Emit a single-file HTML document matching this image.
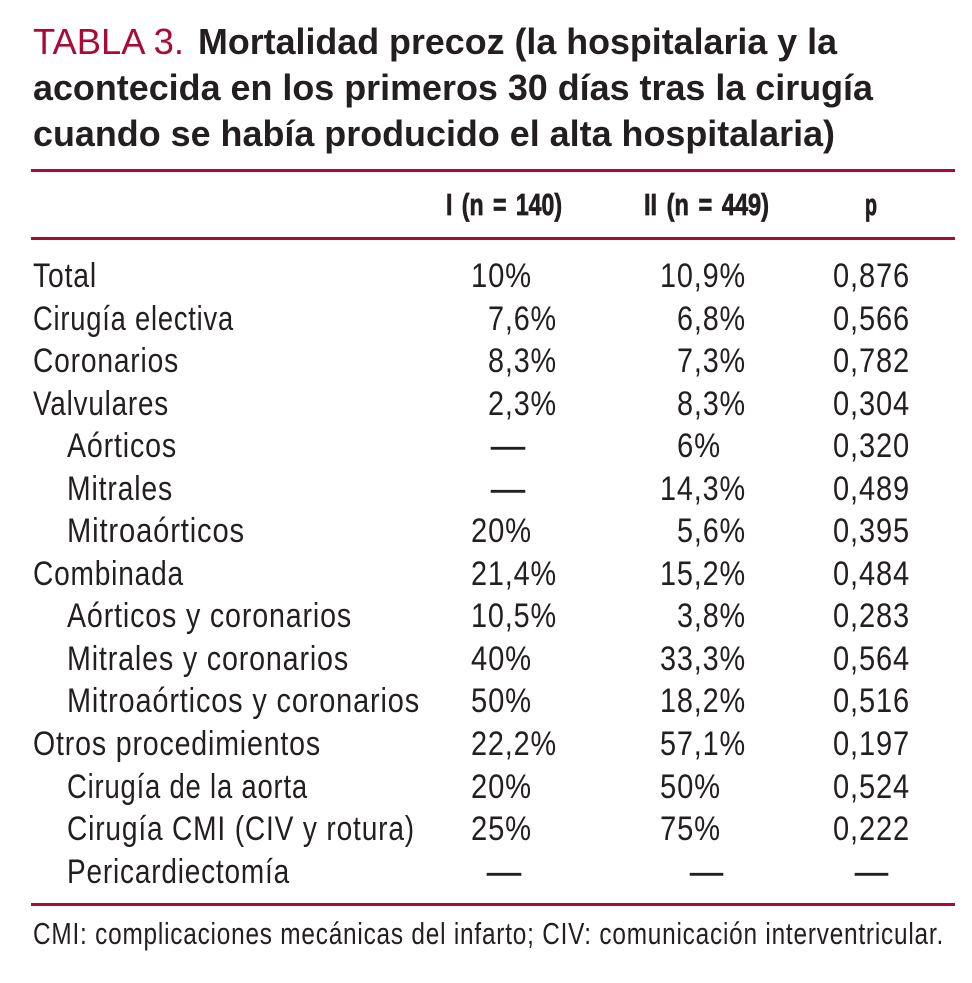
<!DOCTYPE html>
<html lang="es">
<head>
<meta charset="utf-8">
<title>TABLA 3. Mortalidad precoz</title>
<style>
html,body{margin:0;padding:0;background:#fff;width:972px;height:983px;overflow:hidden}
svg{display:block}
text{font-family:"Liberation Sans",sans-serif;fill:#231f20}
.t{font-size:36px;font-weight:bold}
.h{font-size:31px;font-weight:bold;word-spacing:4px;stroke:#231f20;stroke-width:.8px}
.b{font-size:34px;letter-spacing:1px}
.f{font-size:31px;letter-spacing:1px}
.r{fill:#a90a36;font-weight:normal}
.d{stroke:#231f20;stroke-width:.6px}
line{stroke:#a90a36;stroke-width:3}
</style>
</head>
<body>
<svg width="972" height="983" viewBox="0 0 972 983" xmlns="http://www.w3.org/2000/svg">
<g>
<text class="t r" x="33" y="54" textLength="151" lengthAdjust="spacingAndGlyphs">TABLA 3.</text>
<text class="t" x="198" y="54" textLength="639" lengthAdjust="spacingAndGlyphs">Mortalidad precoz (la hospitalaria y la</text>
<text class="t" x="33" y="100" textLength="840" lengthAdjust="spacingAndGlyphs">acontecida en los primeros 30 días tras la cirugía</text>
<text class="t" x="33" y="146" textLength="802" lengthAdjust="spacingAndGlyphs">cuando se había producido el alta hospitalaria)</text>
</g>
<line x1="31" x2="955" y1="170.5" y2="170.5"/>
<line x1="31" x2="955" y1="238.5" y2="238.5"/>
<line x1="31" x2="955" y1="904.5" y2="904.5"/>
<g>
<text class="h" x="446" y="215" textLength="116" lengthAdjust="spacingAndGlyphs">I (n = 140)</text>
<text class="h" x="644" y="215" textLength="125" lengthAdjust="spacingAndGlyphs">II (n = 449)</text>
<text class="h" x="865" y="215" textLength="12" lengthAdjust="spacingAndGlyphs">p</text>
</g>
<g class="b">
<text x="33" y="287" textLength="64" lengthAdjust="spacingAndGlyphs">Total</text>
<text x="471" y="287" textLength="61" lengthAdjust="spacingAndGlyphs">10%</text>
<text x="660" y="287" textLength="86" lengthAdjust="spacingAndGlyphs">10,9%</text>
<text x="833" y="287" textLength="77" lengthAdjust="spacingAndGlyphs">0,876</text>
</g>
<g class="b">
<text x="33" y="330" textLength="201" lengthAdjust="spacingAndGlyphs">Cirugía electiva</text>
<text x="488" y="330" textLength="69" lengthAdjust="spacingAndGlyphs">7,6%</text>
<text x="677" y="330" textLength="69" lengthAdjust="spacingAndGlyphs">6,8%</text>
<text x="833" y="330" textLength="77" lengthAdjust="spacingAndGlyphs">0,566</text>
</g>
<g class="b">
<text x="33" y="372" textLength="146" lengthAdjust="spacingAndGlyphs">Coronarios</text>
<text x="488" y="372" textLength="69" lengthAdjust="spacingAndGlyphs">8,3%</text>
<text x="677" y="372" textLength="69" lengthAdjust="spacingAndGlyphs">7,3%</text>
<text x="833" y="372" textLength="77" lengthAdjust="spacingAndGlyphs">0,782</text>
</g>
<g class="b">
<text x="33" y="415" textLength="136" lengthAdjust="spacingAndGlyphs">Valvulares</text>
<text x="488" y="415" textLength="69" lengthAdjust="spacingAndGlyphs">2,3%</text>
<text x="677" y="415" textLength="69" lengthAdjust="spacingAndGlyphs">8,3%</text>
<text x="833" y="415" textLength="77" lengthAdjust="spacingAndGlyphs">0,304</text>
</g>
<g class="b">
<text x="67" y="457" textLength="110" lengthAdjust="spacingAndGlyphs">Aórticos</text>
<text class="d" x="491" y="457" textLength="35" lengthAdjust="spacingAndGlyphs">—</text>
<text x="677" y="457" textLength="44" lengthAdjust="spacingAndGlyphs">6%</text>
<text x="833" y="457" textLength="77" lengthAdjust="spacingAndGlyphs">0,320</text>
</g>
<g class="b">
<text x="67" y="500" textLength="106" lengthAdjust="spacingAndGlyphs">Mitrales</text>
<text class="d" x="491" y="500" textLength="35" lengthAdjust="spacingAndGlyphs">—</text>
<text x="660" y="500" textLength="86" lengthAdjust="spacingAndGlyphs">14,3%</text>
<text x="833" y="500" textLength="77" lengthAdjust="spacingAndGlyphs">0,489</text>
</g>
<g class="b">
<text x="67" y="542" textLength="178" lengthAdjust="spacingAndGlyphs">Mitroaórticos</text>
<text x="471" y="542" textLength="61" lengthAdjust="spacingAndGlyphs">20%</text>
<text x="677" y="542" textLength="69" lengthAdjust="spacingAndGlyphs">5,6%</text>
<text x="833" y="542" textLength="77" lengthAdjust="spacingAndGlyphs">0,395</text>
</g>
<g class="b">
<text x="33" y="585" textLength="151" lengthAdjust="spacingAndGlyphs">Combinada</text>
<text x="471" y="585" textLength="86" lengthAdjust="spacingAndGlyphs">21,4%</text>
<text x="660" y="585" textLength="86" lengthAdjust="spacingAndGlyphs">15,2%</text>
<text x="833" y="585" textLength="77" lengthAdjust="spacingAndGlyphs">0,484</text>
</g>
<g class="b">
<text x="67" y="627" textLength="285" lengthAdjust="spacingAndGlyphs">Aórticos y coronarios</text>
<text x="471" y="627" textLength="86" lengthAdjust="spacingAndGlyphs">10,5%</text>
<text x="677" y="627" textLength="69" lengthAdjust="spacingAndGlyphs">3,8%</text>
<text x="833" y="627" textLength="77" lengthAdjust="spacingAndGlyphs">0,283</text>
</g>
<g class="b">
<text x="67" y="670" textLength="282" lengthAdjust="spacingAndGlyphs">Mitrales y coronarios</text>
<text x="471" y="670" textLength="61" lengthAdjust="spacingAndGlyphs">40%</text>
<text x="660" y="670" textLength="86" lengthAdjust="spacingAndGlyphs">33,3%</text>
<text x="833" y="670" textLength="77" lengthAdjust="spacingAndGlyphs">0,564</text>
</g>
<g class="b">
<text x="67" y="712" textLength="353" lengthAdjust="spacingAndGlyphs">Mitroaórticos y coronarios</text>
<text x="471" y="712" textLength="61" lengthAdjust="spacingAndGlyphs">50%</text>
<text x="660" y="712" textLength="86" lengthAdjust="spacingAndGlyphs">18,2%</text>
<text x="833" y="712" textLength="77" lengthAdjust="spacingAndGlyphs">0,516</text>
</g>
<g class="b">
<text x="33" y="755" textLength="288" lengthAdjust="spacingAndGlyphs">Otros procedimientos</text>
<text x="471" y="755" textLength="86" lengthAdjust="spacingAndGlyphs">22,2%</text>
<text x="660" y="755" textLength="86" lengthAdjust="spacingAndGlyphs">57,1%</text>
<text x="833" y="755" textLength="77" lengthAdjust="spacingAndGlyphs">0,197</text>
</g>
<g class="b">
<text x="67" y="798" textLength="241" lengthAdjust="spacingAndGlyphs">Cirugía de la aorta</text>
<text x="471" y="798" textLength="61" lengthAdjust="spacingAndGlyphs">20%</text>
<text x="660" y="798" textLength="61" lengthAdjust="spacingAndGlyphs">50%</text>
<text x="833" y="798" textLength="77" lengthAdjust="spacingAndGlyphs">0,524</text>
</g>
<g class="b">
<text x="67" y="840" textLength="348" lengthAdjust="spacingAndGlyphs">Cirugía CMI (CIV y rotura)</text>
<text x="471" y="840" textLength="61" lengthAdjust="spacingAndGlyphs">25%</text>
<text x="660" y="840" textLength="61" lengthAdjust="spacingAndGlyphs">75%</text>
<text x="833" y="840" textLength="77" lengthAdjust="spacingAndGlyphs">0,222</text>
</g>
<g class="b">
<text x="67" y="883" textLength="223" lengthAdjust="spacingAndGlyphs">Pericardiectomía</text>
<text class="d" x="487" y="883" textLength="35" lengthAdjust="spacingAndGlyphs">—</text>
<text class="d" x="690" y="883" textLength="34" lengthAdjust="spacingAndGlyphs">—</text>
<text class="d" x="855" y="883" textLength="34" lengthAdjust="spacingAndGlyphs">—</text>
</g>
<text class="f" x="33" y="944" textLength="911" lengthAdjust="spacingAndGlyphs">CMI: complicaciones mecánicas del infarto; CIV: comunicación interventricular.</text>
</svg>
</body>
</html>
